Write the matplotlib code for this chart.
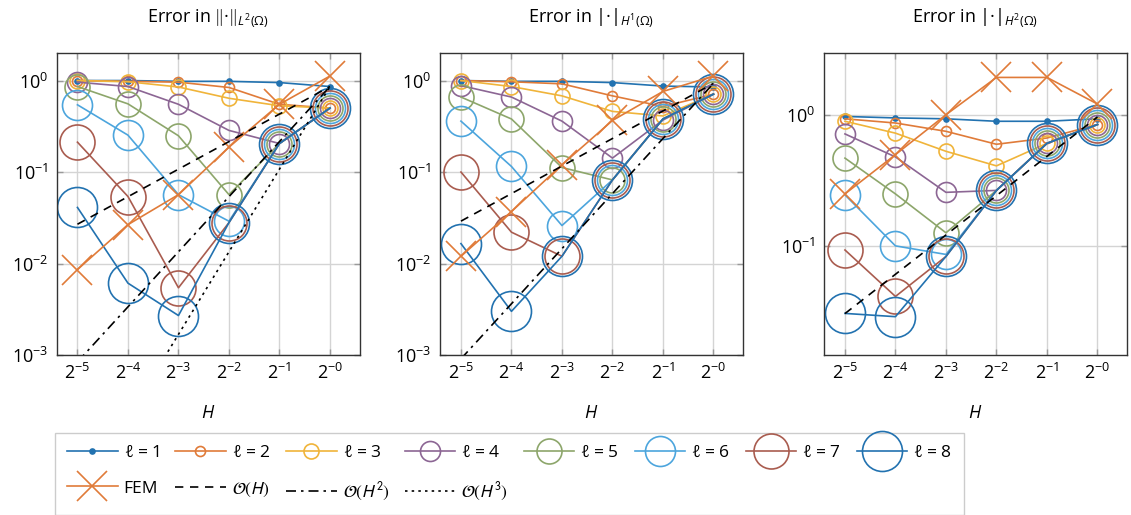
import matplotlib
matplotlib.use("Agg")
import matplotlib.pyplot as plt
from matplotlib.ticker import FixedLocator, FixedFormatter, LogLocator, NullLocator

# ---------------- data ----------------
H = [2**-5, 2**-4, 2**-3, 2**-2, 2**-1, 2**0]
H_labels = ["$2^{-5}$", "$2^{-4}$", "$2^{-3}$", "$2^{-2}$", "$2^{-1}$", "$2^{-0}$"]
titles = [r"Error in $\Vert$·$\Vert_{L^2(\Omega)}$",
          r"Error in |·|$_{H^1(\Omega)}$",
          r"Error in |·|$_{H^2(\Omega)}$"]

# L2 error
L2_l1 = [1.0, 1.0, 0.98, 0.98, 0.95, 0.86]
L2_l2 = [1.0, 0.98, 0.96, 0.84, 0.55, 0.50]
L2_l3 = [1.0, 0.97, 0.85, 0.64, 0.53, 0.50]
L2_l4 = [0.96, 0.86, 0.55, 0.285, 0.205, 0.50]
L2_l5 = [0.86, 0.556, 0.249, 0.0566, 0.205, 0.50]
L2_l6 = [0.543, 0.253, 0.0566, 0.029, 0.205, 0.50]
L2_l7 = [0.212, 0.054, 0.00543, 0.028, 0.205, 0.50]
L2_l8 = [0.041, 0.0061, 0.0027, 0.028, 0.205, 0.50]
L2_fem = [0.0086, 0.0266, 0.0566, 0.187, 0.55, 1.12]
L2_C = 0.86

# H1 error
H1_l1 = [1.0, 0.98, 0.98, 0.95, 0.87, 0.85]
H1_l2 = [1.0, 0.97, 0.92, 0.68, 0.52, 0.71]
H1_l3 = [1.0, 0.86, 0.68, 0.46, 0.41, 0.71]
H1_l4 = [0.88, 0.66, 0.36, 0.142, 0.37, 0.71]
H1_l5 = [0.66, 0.38, 0.112, 0.082, 0.38, 0.71]
H1_l6 = [0.36, 0.115, 0.026, 0.082, 0.38, 0.71]
H1_l7 = [0.10, 0.022, 0.012, 0.082, 0.38, 0.71]
H1_l8 = [0.0165, 0.0030, 0.012, 0.082, 0.38, 0.71]
H1_fem = [0.012, 0.037, 0.12, 0.366, 0.76, 1.12]
H1_C = 0.93

# H2 error
H2_l1 = [0.98, 0.955, 0.94, 0.90, 0.90, 0.94]
H2_l2 = [0.94, 0.873, 0.754, 0.60, 0.67, 0.85]
H2_l3 = [0.90, 0.73, 0.53, 0.41, 0.61, 0.85]
H2_l4 = [0.72, 0.48, 0.257, 0.266, 0.61, 0.85]
H2_l5 = [0.47, 0.25, 0.126, 0.266, 0.61, 0.85]
H2_l6 = [0.246, 0.10, 0.086, 0.266, 0.61, 0.85]
H2_l7 = [0.093, 0.041, 0.083, 0.266, 0.61, 0.85]
H2_l8 = [0.0304, 0.0287, 0.083, 0.266, 0.61, 0.85]
H2_fem = [0.25, 0.50, 1.01, 1.95, 1.95, 1.22]
H2_C = 0.97

levels = [1, 2, 3, 4, 5, 6, 7, 8]
colors = ["#2272b0", "#e07b39", "#f0b43a", "#8c6694", "#8da66b", "#4ca5dd", "#a95c4f", "#2272b0"]
fem_color = "#e07b39"

panels = [
    dict(series=[L2_l1, L2_l2, L2_l3, L2_l4, L2_l5, L2_l6, L2_l7, L2_l8], fem=L2_fem, C=L2_C,
         rates=[1, 2, 3], ylim=(1e-3, 2.0)),
    dict(series=[H1_l1, H1_l2, H1_l3, H1_l4, H1_l5, H1_l6, H1_l7, H1_l8], fem=H1_fem, C=H1_C,
         rates=[1, 2], ylim=(1e-3, 2.0)),
    dict(series=[H2_l1, H2_l2, H2_l3, H2_l4, H2_l5, H2_l6, H2_l7, H2_l8], fem=H2_fem, C=H2_C,
         rates=[1], ylim=(0.0146, 3.0)),
]

# ---------------- style ----------------
plt.rcParams["font.family"] = ["Open Sans", "DejaVu Sans"]
plt.rcParams["mathtext.fontset"] = "custom"
plt.rcParams["mathtext.rm"] = "Open Sans"
plt.rcParams["mathtext.it"] = "Open Sans:italic"
plt.rcParams["mathtext.bf"] = "Open Sans:bold"
plt.rcParams["mathtext.sf"] = "Open Sans"
plt.rcParams["font.size"] = 12

W, Hpx = 1131, 515
fig = plt.figure(figsize=(W / 100, Hpx / 100), dpi=100)

lefts = [56.5, 440, 824]
ax_w = 303
top, bottom = 53, 355
rate_styles = {1: (0, (5, 4)), 2: (0, (6, 3, 1.5, 3)), 3: (0, (1.5, 2.5))}
rate_labels = {1: r"$\mathcal{O}(H)$", 2: r"$\mathcal{O}(H^2)$", 3: r"$\mathcal{O}(H^3)$"}

lw = 1.2
handles = {}
for i, p in enumerate(panels):
    ax = fig.add_axes([lefts[i] / W, 1 - bottom / Hpx, ax_w / W, (bottom - top) / Hpx])
    ax.set_xscale("log", base=2)
    ax.set_yscale("log")
    for k, (lev, ys) in enumerate(zip(levels, p["series"])):
        ms = 3.6 * lev
        mfc = colors[k] if lev == 1 else "none"
        h, = ax.plot(H, ys, color=colors[k], lw=lw, marker="o", ms=ms, mfc=mfc,
                     mec=colors[k], mew=lw, label=rf"$\ell$ = {lev}", zorder=2)
        handles[f"l{lev}"] = h
    h, = ax.plot(H, p["fem"], color=fem_color, lw=lw, marker="x", ms=22, mew=lw,
                 label="FEM", zorder=3)
    handles["fem"] = h
    for r in p["rates"]:
        ys = [p["C"] * hh**r for hh in H]
        h, = ax.plot(H, ys, color="black", lw=lw, ls=rate_styles[r], label=rate_labels[r], zorder=4)
        handles[f"r{r}"] = h

    ax.set_xlim(0.75 * 2**-5, 1.5)
    ax.set_ylim(*p["ylim"])
    ax.xaxis.set_major_locator(FixedLocator(H))
    ax.xaxis.set_major_formatter(FixedFormatter(H_labels))
    ax.xaxis.set_minor_locator(NullLocator())
    ax.yaxis.set_major_locator(LogLocator(base=10, numticks=10))
    ax.yaxis.set_minor_locator(NullLocator())
    ax.grid(True, which="major", color="#d4d4d4", lw=1.0, zorder=0)
    ax.set_axisbelow(True)
    ax.tick_params(which="both", direction="in", top=True, right=True, length=4,
                   width=1.0, color="#9a9a9a", labelsize=13, pad=6)
    for s in ax.spines.values():
        s.set_color("#333333")
        s.set_linewidth(1.0)
    ax.set_title(titles[i], fontsize=13, pad=22)
    ax.set_xlabel("$H$", fontsize=13, labelpad=15)

order = ["l1", "fem", "l2", "r1", "l3", "r2", "l4", "r3", "l5", "l6", "l7", "l8"]
hs = [handles[o] for o in order]
leg = fig.legend(hs, [h.get_label() for h in hs], ncol=8, loc="upper left",
                 bbox_to_anchor=(55 / W, 1 - 433 / Hpx), borderaxespad=0,
                 frameon=True, fancybox=False, edgecolor="#cccccc", framealpha=1,
                 handlelength=2.9, handletextpad=0.35, columnspacing=0.9,
                 labelspacing=1.1, borderpad=0.7, fontsize=12.5)
leg.get_frame().set_linewidth(1.0)
for t in leg.get_texts():
    if "mathcal" in t.get_text():
        t.set_math_fontfamily("stixsans")

fig.savefig("out.png", dpi=100)
